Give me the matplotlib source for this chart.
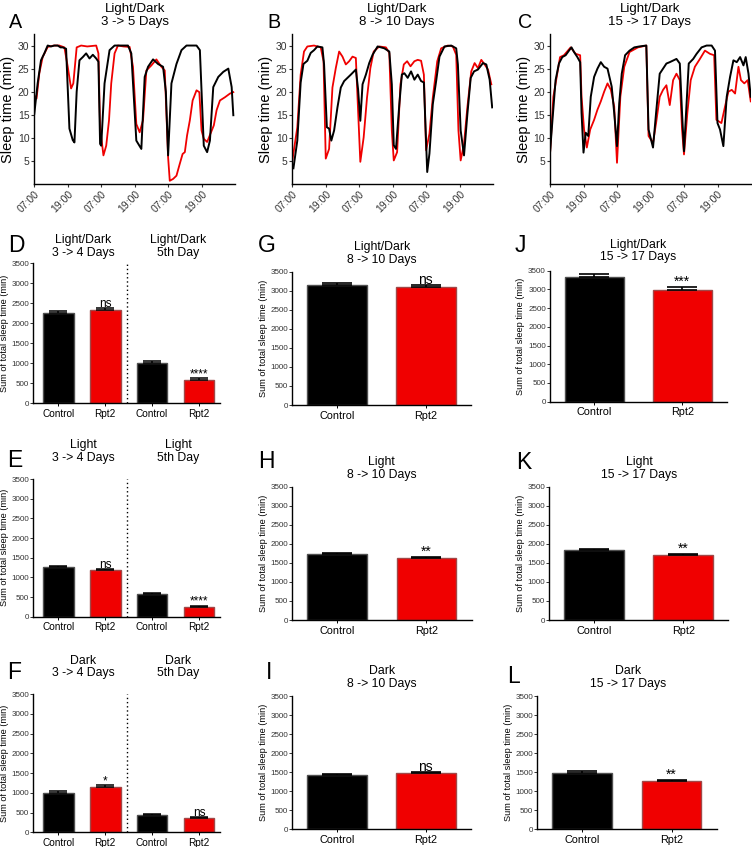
import matplotlib
matplotlib.use('Agg')
import matplotlib.pyplot as plt

plt.rcParams['font.family'] = ['Liberation Sans', 'DejaVu Sans']

W, H = 752, 847
RED = '#f00000'

# ---- sleep time traces (hours after 07:00, minutes of sleep per 30 min) ----
a_ctrl_t = [0, 1.2, 2.4, 3.6, 4.8, 6, 7.2, 8.4, 9.4, 10.2, 11.4, 12.6, 13.8, 14.4, 15.2, 16.2,
            17.4, 18.6, 19.8, 21, 22.2, 23, 23.6, 24, 25.2, 27, 28.8, 31, 33.6, 34.8, 36.6,
            38.4, 39.6, 40.8, 42.6, 44.4, 46.2, 47.2, 48, 49.2, 51, 52.8, 54.6, 56.4, 58.2,
            59.4, 60.8, 62, 63, 64.2, 66, 67.8, 69.6, 70.8, 71.4]
a_ctrl_v = [15.2, 21.8, 26.8, 28.3, 30, 29.8, 30, 30, 29.6, 29.6, 29.3, 12, 9.5, 9, 20, 26.8,
            27.5, 28.3, 27.2, 28, 27.2, 26.5, 8.7, 8.3, 21.8, 29, 30, 30, 30, 28.3, 9.4,
            7.6, 23.2, 25.4, 27, 26, 25.4, 20, 6.2, 21.8, 26, 29, 30, 30, 30,
            29, 8.3, 6.9, 9.4, 21, 23.2, 24.3, 25, 21, 14.9]
a_rpt2_t = [0, 0.8, 1.8, 3, 4.8, 7, 9, 10.8, 12, 13.2, 14, 15.2, 16.8, 19, 22.2, 23, 23.6,
            24.8, 25.8, 26.8, 27.6, 28.8, 30, 32, 34.2, 35.4, 36.6, 37.8, 39, 40.2, 42,
            43.8, 45.6, 46.8, 48, 48.6, 49.8, 51, 52.2, 53.2, 54, 54.8, 55.8, 56.8, 58.2,
            59.2, 60, 60.8, 62, 63.2, 64.4, 65.4, 66.6, 68.4, 70.2, 71.4]
a_rpt2_v = [19.2, 18.5, 24, 27.5, 29.7, 30, 30, 29.6, 25.4, 20.7, 21.8, 29.6, 30, 29.8, 30, 28.3, 12.3,
            6.2, 8.3, 13.8, 21.8, 28.3, 30, 29.8, 29.7, 25.4, 13, 11.2, 13.8, 24.6, 25.7,
            27, 25.4, 24.6, 5.8, 0.7, 1.1, 1.8, 4.4, 6.5, 6.9, 10.5, 13.8, 18.1, 20.3,
            19.9, 11.6, 9.8, 9.1, 10.9, 12.7, 16, 18.1, 18.8, 19.6, 19.9]

b_ctrl_t = [0.4, 1.8, 3, 4, 5.4, 6.6, 7.8, 9, 10.8, 11.4, 12.4, 13.2, 14, 15, 16.2, 17.4, 18.6,
            19.8, 21, 22.8, 23.6, 24.4, 25.2, 26.4, 27.6, 28.8, 30.6, 33, 34.8, 35.7, 36.4,
            37.2, 38.4, 39.3, 40.2, 41.4, 42.6, 43.8, 45, 46.2, 47.2, 48.4, 49.2, 50.4,
            51.6, 52.8, 54.6, 57, 58.8, 59.4, 60.4, 61.6, 62.8, 64, 65.2, 66.6, 68.4, 69.6,
            70.8, 71.7]
b_ctrl_v = [3.4, 9.4, 22, 26, 26.7, 28.4, 29, 29.8, 29.6, 25.9, 12.3, 12, 9.4, 11.6, 16.6, 20.9, 22.3,
            23, 23.7, 24.8, 20.5, 13.7, 21.6, 23.7, 26.2, 28, 29.8, 29.4, 28.7, 21.6, 8.4,
            7.6, 17.3, 23.7, 24, 23, 24.4, 22.6, 23.7, 22.3, 22, 2.6, 6.6, 17.3,
            22.3, 27.6, 29.8, 30, 29.4, 25.9, 11.6, 6.2, 15.1, 23, 24.4, 24.8, 26.2, 25.9,
            22.6, 16.6]
b_rpt2_t = [0, 1.8, 3, 4.2, 5.4, 7.8, 10.2, 11.2, 12, 13.2, 14.4, 15.6, 16.8, 18, 19.2, 20.4,
            21.6, 22.8, 23.4, 24.4, 25.6, 26.8, 28, 29.2, 31.2, 33.6, 34.8, 35.7, 36.4, 37.6,
            38.8, 40, 41.2, 42.4, 43.8, 45, 46.2, 47.2, 48, 49.2, 50.4, 52, 53.4, 55.8,
            57.6, 58.8, 59.6, 60.4, 61.6, 62.8, 64.2, 65.4, 66.6, 67.8, 69, 70.2, 71.4]
b_rpt2_v = [5, 12.3, 23.7, 28.7, 29.8, 30, 29.6, 26.6, 5.5, 7.6, 20.9, 25.1, 28.7, 27.6, 25.9, 26.6,
            27.6, 27.3, 18.7, 4.8, 10.1, 18.7, 25.1, 28.7, 29.8, 29.6, 28.4, 11.6, 5.1, 6.9,
            21.6, 25.9, 26.6, 25.5, 26.6, 26.9, 26.7, 23.7, 7.3, 10.9, 18.7, 26.6, 29.4, 30,
            29.8, 28, 11.6, 5.1, 8.7, 16.6, 24.4, 26.2, 25.1, 26.9, 25.9, 24.8, 21.6]

c_ctrl_t = [0, 0.8, 2, 3.2, 4.4, 5.6, 6.8, 7.7, 8.6, 9.8, 10.8, 11.3, 12, 12.8, 13.7, 14.6, 15.8,
            17, 18.2, 19.4, 20.6, 22.1, 23, 24, 24.8, 25.7, 26.9, 28.5, 30.2, 32, 34.5, 35.3,
            36.9, 38, 39.3, 40.5, 41.7, 42.9, 45.3, 46.5, 47.3, 48, 48.8, 49.7, 51.3, 52.5,
            54.3, 56.1, 57.9, 59.1, 60, 60.9, 62.1, 63.3, 64.5, 65.7, 66.9, 68.1, 69.3, 70.1,
            71.1, 71.9]
c_ctrl_v = [6.8, 13.2, 22.5, 26.1, 27.5, 27.9, 28.9, 29.6, 28.6, 27.5, 26.4, 15.4, 6.8, 11.1, 10.4, 18.9, 23.2,
            25, 26.4, 25.4, 25, 21.1, 15.4, 8.2, 17.5, 23.9, 27.9, 28.9, 29.6, 29.8, 30, 11.8,
            7.9, 15.4, 23.9, 25, 26.1, 26.4, 27.1, 26.1, 15.4, 7.1, 16.1, 26.1, 27.1, 28.2,
            29.6, 30, 30, 28.9, 13.2, 11.8, 8.2, 18.9, 23.2, 26.8, 26.4, 27.5, 25.7, 27.5,
            23.9, 18.9]
c_rpt2_t = [0, 1.2, 2.4, 3.6, 5, 7.4, 9.2, 10.8, 11.3, 12.2, 13.2, 14.4, 15.8, 17, 18.2, 19.4,
            20.6, 21.8, 23, 24, 25.2, 26.6, 28.5, 31.5, 34.5, 35.3, 36.9, 38, 39.3, 40.5, 41.7,
            42.9, 44.1, 45.3, 46.5, 47.3, 48, 49.2, 50.4, 51.9, 53.7, 55.5, 57.3, 58.8, 59.6,
            61.4, 62.7, 63.9, 65.1, 66.3, 67.5, 68.4, 69.6, 70.8, 71.9]
c_rpt2_v = [6.4, 18.9, 23.2, 27.5, 27.9, 29.6, 28.2, 27.9, 18.9, 11.8, 7.9, 11.8, 13.9, 16.1, 17.9, 20,
            21.8, 20.4, 16.8, 4.6, 18.9, 25.4, 28.6, 29.6, 30, 10.4, 8.9, 13.2, 18.9, 20.4, 21.4,
            17.1, 22.5, 23.9, 22.5, 11.8, 6.4, 15.4, 22.5, 25.4, 27.1, 28.9, 28.2, 27.9, 13.9,
            13.2, 16.8, 20, 20.4, 19.6, 25.4, 22.5, 21.8, 22.5, 17.9]

hour_ticks = [0, 12, 24, 36, 48, 60]
hour_labels = ['07:00', '19:00', '07:00', '19:00', '07:00', '19:00']
sleep_ticks = [5, 10, 15, 20, 25, 30]

# ---- summed sleep time bars (min) ----
groups = ['Control', 'Rpt2']
d_ctrl, d_ctrl_err = [2250, 1000], [50, 50]
d_rpt2, d_rpt2_err = [2320, 570], [55, 55]
d_sig = ['ns', '****']
e_ctrl, e_ctrl_err = [1255, 577], [25, 20]
e_rpt2, e_rpt2_err = [1187, 240], [28, 30]
e_sig = ['ns', '****']
f_ctrl, f_ctrl_err = [1002, 438], [35, 30]
f_rpt2, f_rpt2_err = [1140, 354], [50, 40]
f_sig = ['*', 'ns']

g_vals, g_err, g_sig = [3150, 3098], [65, 45], 'ns'
h_vals, h_err, h_sig = [1733, 1620], [25, 40], '**'
i_vals, i_err, i_sig = [1421, 1474], [30, 35], 'ns'
j_vals, j_err, j_sig = [3340, 2984], [60, 80], '***'
k_vals, k_err, k_sig = [1838, 1698], [30, 40], '**'
l_vals, l_err, l_sig = [1481, 1255], [40, 45], '**'

bar_ticks = [0, 500, 1000, 1500, 2000, 2500, 3000, 3500]

fig = plt.figure(figsize=(W / 100, H / 100), dpi=100)


def px_axes(x0, y0, x1, y1):
    return fig.add_axes([x0 / W, 1 - y1 / H, (x1 - x0) / W, (y1 - y0) / H])


def ftext(x, y, s, **kw):
    fig.text(x / W, 1 - y / H, s, **kw)


def style(ax):
    for side in ['top', 'right']:
        ax.spines[side].set_visible(False)
    for side in ['left', 'bottom']:
        ax.spines[side].set_linewidth(1.0)


def line_panel(rect, ct, cv, rt, rv):
    ax = px_axes(*rect)
    ax.plot(rt, rv, color=RED, lw=1.3)
    ax.plot(ct, cv, color='black', lw=1.4)
    ax.set_xlim(0, 72)
    ax.set_ylim(0, 32.5)
    ax.set_xticks(hour_ticks)
    ax.set_xticklabels(hour_labels, rotation=45, ha='right', rotation_mode='anchor')
    ax.set_yticks(sleep_ticks)
    ax.tick_params(labelsize=7.5, length=2, width=0.8, pad=1.5, colors='#333333')
    ax.set_ylabel('Sleep time (min)', fontsize=10.5, labelpad=2)
    style(ax)
    return ax


def bar_style(ax):
    ax.set_ylim(0, 3500)
    ax.set_yticks(bar_ticks)
    ax.tick_params(axis='y', labelsize=5.8, length=2, width=0.7, pad=1, colors='#333333')
    ax.tick_params(axis='x', labelsize=7.8, length=2, width=0.7, pad=2)
    ax.set_ylabel('Sum of total sleep time (min)', fontsize=6.6, labelpad=2)
    style(ax)


def split_panel(rect, ctrl, ctrl_err, rpt2, rpt2_err, sig):
    ax = px_axes(*rect)
    xs = [0, 1, 2, 3]
    vals = [ctrl[0], rpt2[0], ctrl[1], rpt2[1]]
    errs = [ctrl_err[0], rpt2_err[0], ctrl_err[1], rpt2_err[1]]
    cols = ['black', RED, 'black', RED]
    edges = ['#505050', '#a04848', '#505050', '#a04848']
    ax.bar(xs, vals, width=0.655, color=cols, edgecolor=edges, linewidth=1)
    for x, v, e in zip(xs, vals, errs):
        ax.errorbar([x], [v], yerr=[[0], [e]], fmt='none', ecolor='black',
                    elinewidth=1.1, capsize=6.5, capthick=1.1)
    for x, v, e, s in zip([1, 3], [rpt2[0], rpt2[1]], [rpt2_err[0], rpt2_err[1]], sig):
        ax.text(x, v + e - 45, s, ha='center', va='bottom', fontsize=8.5)
    ax.axvline(1.471, color='black', ls=(0, (1, 2)), lw=1)
    ax.set_xlim(-0.533, 3.448)
    ax.set_xticks(xs)
    ax.set_xticklabels(groups * 2)
    bar_style(ax)
    ax.tick_params(axis='x', labelsize=7.2)
    return ax


def pair_panel(rect, vals, errs, sig):
    ax = px_axes(*rect)
    xs = [0, 1]
    ax.bar(xs, vals, width=0.67, color=['black', RED],
           edgecolor=['#505050', '#a04848'], linewidth=1)
    for x, v, e in zip(xs, vals, errs):
        ax.errorbar([x], [v], yerr=[[0], [e]], fmt='none', ecolor='black',
                    elinewidth=1.2, capsize=10.5, capthick=1.2)
    ax.text(1, vals[1] + errs[1] - 55, sig, ha='center', va='bottom', fontsize=10)
    ax.set_xlim(-0.505, 1.506)
    ax.set_xticks(xs)
    ax.set_xticklabels(groups)
    bar_style(ax)
    return ax


# top row: traces
line_panel((34.3, 34, 235, 184), a_ctrl_t, a_ctrl_v, a_rpt2_t, a_rpt2_v)
line_panel((292.3, 34, 493, 184), b_ctrl_t, b_ctrl_v, b_rpt2_t, b_rpt2_v)
line_panel((550, 34, 751, 184), c_ctrl_t, c_ctrl_v, c_rpt2_t, c_rpt2_v)

for x, t in [(135, 'Light/Dark\n3 -> 5 Days'), (396.7, 'Light/Dark\n8 -> 10 Days'),
             (650, 'Light/Dark\n15 -> 17 Days')]:
    ftext(x, 15.5, t, ha='center', va='center', fontsize=9.5, linespacing=1.1)

# left column
split_panel((33.3, 263, 220, 403.3), d_ctrl, d_ctrl_err, d_rpt2, d_rpt2_err, d_sig)
split_panel((33.3, 479, 220, 616.7), e_ctrl, e_ctrl_err, e_rpt2, e_rpt2_err, e_sig)
split_panel((33.3, 694, 220, 832.3), f_ctrl, f_ctrl_err, f_rpt2, f_rpt2_err, f_sig)

# middle and right columns
pair_panel((292.3, 271.7, 470.7, 405), g_vals, g_err, g_sig)
pair_panel((292.3, 486.7, 471.5, 620), h_vals, h_err, h_sig)
pair_panel((292.3, 696, 470.7, 829), i_vals, i_err, i_sig)
pair_panel((550, 270.7, 726.7, 401.7), j_vals, j_err, j_sig)
pair_panel((549.3, 486.7, 728.3, 620), k_vals, k_err, k_sig)
pair_panel((537.3, 696, 716.7, 829), l_vals, l_err, l_sig)

titles = [(83, 246.5, 'Light/Dark\n3 -> 4 Days'), (178, 246.5, 'Light/Dark\n5th Day'),
          (83, 451.5, 'Light\n3 -> 4 Days'), (178, 451.5, 'Light\n5th Day'),
          (83, 667, 'Dark\n3 -> 4 Days'), (178, 667, 'Dark\n5th Day'),
          (381.7, 253.3, 'Light/Dark\n8 -> 10 Days'), (381.7, 468.3, 'Light\n8 -> 10 Days'),
          (381.7, 677.3, 'Dark\n8 -> 10 Days'), (638, 251, 'Light/Dark\n15 -> 17 Days'),
          (639, 468.3, 'Light\n15 -> 17 Days'), (627.7, 677.3, 'Dark\n15 -> 17 Days')]
for x, y, t in titles:
    ftext(x, y, t, ha='center', va='center', fontsize=8.8, linespacing=1.1)

letters = [(9, 28, 'A', 19), (267, 28, 'B', 19), (518, 28, 'C', 19),
           (8, 252, 'D', 22), (258, 252, 'G', 22), (515, 252, 'J', 22),
           (7, 467, 'E', 22), (258, 468, 'H', 22), (516, 469, 'K', 22),
           (7, 679, 'F', 22), (266, 679, 'I', 22), (507, 683, 'L', 22)]
for x, y, s, fs in letters:
    ftext(x, y, s, ha='left', va='baseline', fontsize=fs * 0.75)

fig.savefig('out.png', dpi=100)
